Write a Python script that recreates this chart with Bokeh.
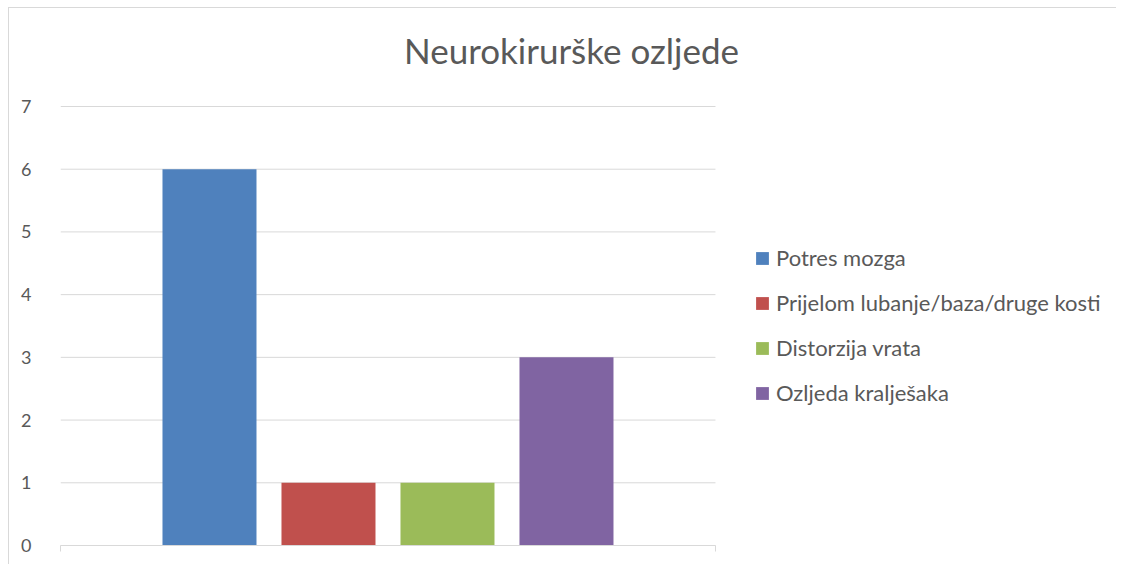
from bokeh.plotting import figure
from bokeh.models import Range1d, FixedTicker, Legend, LegendItem, Label, CustomJSTickFormatter
from bokeh.embed import file_html
from bokeh.resources import INLINE

# Data
title_text = "Neurokirurške ozljede"
series_names = ["Potres mozga", "Prijelom lubanje/baza/druge kosti", "Distorzija vrata", "Ozljeda kralješaka"]
series_values = [6, 1, 1, 3]
series_colors = ["#4F81BD", "#C0504D", "#9BBB59", "#8064A2"]
y_ticks = [0, 1, 2, 3, 4, 5, 6, 7]

FONT = "Lato"
TXT = "#595959"
GRID = "#D9D9D9"

n = len(series_values)
x_pos = list(range(n))
pad = 1.252               # plot-area padding (category units) on each side
x_end_frame = 7.622       # frame extends right to hold the legend
y_end_frame = 8.69        # frame extends up to hold the title
x_area_end = n - 1 + pad

W, H = 1116, 564
p = figure(width=W, height=H, output_backend="svg", toolbar_location=None,
           x_range=Range1d(-pad, x_end_frame), y_range=Range1d(y_ticks[0], y_end_frame),
           min_border_left=60, min_border_right=0, min_border_top=0, min_border_bottom=19)
p.outline_line_color = None
p.background_fill_alpha = 0
p.border_fill_alpha = 0
p.styles = {
    "background": "linear-gradient(#D9D9D9,#D9D9D9) 8px 7px / 100% 1px no-repeat, "
                  "linear-gradient(#D9D9D9,#D9D9D9) 8px 7px / 1px 100% no-repeat, #FFFFFF"
}

# Horizontal gridlines limited to the plot area
p.segment(x0=[-pad] * len(y_ticks), x1=[x_area_end] * len(y_ticks), y0=y_ticks, y1=y_ticks,
          line_color=GRID, line_width=1)

renderers = []
for i in range(n):
    r = p.vbar(x=[x_pos[i]], top=[series_values[i]], width=0.79, bottom=0,
               fill_color=series_colors[i], line_color=None)
    renderers.append(r)

# Y axis
p.yaxis.ticker = FixedTicker(ticks=y_ticks)
p.yaxis.axis_line_color = None
p.yaxis.major_tick_line_color = None
p.yaxis.minor_tick_line_color = None
p.yaxis.major_label_standoff = 23
p.yaxis.major_label_text_font = FONT
p.yaxis.major_label_text_font_size = "18px"
p.yaxis.major_label_text_color = TXT
p.ygrid.grid_line_color = None

# X axis
p.xaxis.ticker = FixedTicker(ticks=[-pad, x_area_end])
p.xaxis.bounds = (-pad, x_area_end)
p.xaxis.formatter = CustomJSTickFormatter(code="return ''")
p.xaxis.axis_line_color = GRID
p.xaxis.major_tick_line_color = GRID
p.xaxis.major_tick_out = 6
p.xaxis.major_tick_in = 0
p.xaxis.minor_tick_line_color = None
p.xaxis.major_label_text_font_size = "0px"
p.xgrid.grid_line_color = None

# Title
p.add_layout(Label(x=511, y=496, x_units="screen", y_units="screen", text=title_text,
                   text_align="center", text_baseline="alphabetic",
                   text_font=FONT, text_font_size="35px", text_color=TXT))

# Legend
items = [LegendItem(label=series_names[i], renderers=[renderers[i]]) for i in range(n)]
legend = Legend(items=items, location=(694, 139), orientation="vertical",
                glyph_width=16, glyph_height=16, label_height=20, spacing=18,
                label_standoff=6, padding=0, margin=0,
                border_line_color=None, background_fill_alpha=0,
                label_text_font=FONT, label_text_font_size="22px", label_text_color=TXT)
p.add_layout(legend, "center")

open("out.html", "w").write(file_html(p, INLINE))
